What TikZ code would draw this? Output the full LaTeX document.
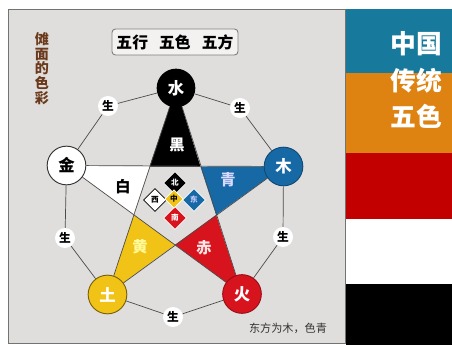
\documentclass[tikz,border=0pt]{standalone}
\usepackage{fontspec}
\setmainfont{Noto Sans CJK SC}
\usetikzlibrary{shapes.geometric}
\definecolor{panelgray}{HTML}{E0DEDC}
\definecolor{woodblue}{HTML}{1769A6}
\definecolor{firered}{HTML}{D7141E}
\definecolor{earthyellow}{HTML}{F2C317}
\definecolor{titlebrown}{HTML}{6B3A1C}
\definecolor{stripeblue}{HTML}{17799B}
\definecolor{stripeorange}{HTML}{DE8312}
\definecolor{stripered}{HTML}{C20000}
\tikzset{
  elem/.style={circle, minimum size=1.16cm, inner sep=0pt, line width=0.8pt,
    font=\fontsize{14}{14}\selectfont\bfseries},
  sheng/.style={circle, fill=white, minimum size=0.6cm, inner sep=0pt,
    font=\fontsize{10}{10}\selectfont\bfseries},
  fang/.style={diamond, draw=white, line width=0.6pt, minimum width=0.69cm,
    minimum height=0.69cm, inner sep=0pt, font=\fontsize{6.5}{6.5}\selectfont\bfseries},
  colorname/.style={font=\fontsize{13}{13}\selectfont\bfseries},
  link/.style={draw=black!70, line width=0.6pt}
}
\begin{document}
\begin{tikzpicture}[x=0.03cm, y=-0.03cm]
    \useasboundingbox (0,0) rectangle (452,345);
    % Panel
    \fill[white] (0,0) rectangle (452,345);
    \draw[fill=panelgray, draw=black!55, line width=0.8pt] (8,9) rectangle (345,343);
    % Colour stripes
    \fill[stripeblue] (346,9) rectangle (452,73);
    \fill[stripeorange] (346,73) rectangle (452,153);
    \fill[stripered] (346,153) rectangle (452,219);
    \fill[white] (346,219) rectangle (452,284);
    \fill[black] (346,284) rectangle (452,345);
    \node[white, align=center, font=\fontsize{22}{31.5}\selectfont\bfseries]
        (wuse) at (416,80) {中国\\传统\\五色};

    % Outer pentagon (five elements)
    \coordinate (W) at (176,88);
    \coordinate (M) at (283.5,166.5);
    \coordinate (H) at (242,294);
    \coordinate (T) at (107.5,294.5);
    \coordinate (J) at (66.5,165.5);
    % Inner pentagon
    \coordinate (P1) at (149.6,166.6);
    \coordinate (P2) at (200.4,166.6);
    \coordinate (P3) at (216.1,214.9);
    \coordinate (P4) at (175,244.8);
    \coordinate (P5) at (133.9,214.9);

    % Star points
    \fill[black] (W) -- (P1) -- (P2) -- cycle;
    \fill[woodblue] (M) -- (P2) -- (P3) -- cycle;
    \fill[firered] (H) -- (P3) -- (P4) -- cycle;
    \fill[earthyellow] (T) -- (P4) -- (P5) -- cycle;
    \fill[white] (J) -- (P5) -- (P1) -- cycle;

    % Element circles
    \node[elem, fill=black, text=white] (shui) at (W) {水};
    \node[elem, fill=woodblue, draw=woodblue!70!black, text=white] (mu) at (M) {木};
    \node[elem, fill=firered, draw=firered!70!black, text=white] (huo) at (H) {火};
    \node[elem, fill=earthyellow, draw=earthyellow!50!black, text=white] (tu) at (T) {土};
    \node[elem, fill=white, draw=black!80] (jin) at (J) {金};

    % Generating cycle
    \node[sheng] (s1) at (240,108) {生};
    \node[sheng] (s2) at (283,237) {生};
    \node[sheng] (s3) at (173,317) {生};
    \node[sheng] (s4) at (65,238) {生};
    \node[sheng] (s5) at (108,106) {生};
    \draw[link] (shui) -- (s1) -- (mu) -- (s2) -- (huo) -- (s3) -- (tu) -- (s4) -- (jin) -- (s5) -- (shui);

    % Pentagram lines
    \draw[link] (shui) -- (huo);
    \draw[link] (shui) -- (tu);
    \draw[link] (mu) -- (jin);
    \draw[link] (mu) -- (tu);
    \draw[link] (jin) -- (huo);

    % Colour names
    \node[colorname, white] (hei) at (177,145) {黑};
    \node[colorname, blue!15] (qing) at (228,180) {青};
    \node[colorname, red!10] (chi) at (204,248) {赤};
    \node[colorname, yellow!40] (huang) at (140,247) {黄};
    \node[colorname, black] (bai) at (123,187) {白};

    % Five directions
    \node[fang, fill=black, text=white] (bei) at (175,183) {北};
    \node[fang, fill=white, draw=black, text=black] (xi) at (155,200) {西};
    \node[fang, fill=woodblue, text=blue!20] (dong) at (194,200) {东};
    \node[fang, fill=firered, text=white] (nan) at (175,218) {南};
    \node[fang, fill=earthyellow, minimum width=0.55cm, minimum height=0.55cm] (zhong) at (174,199) {中};

    % Titles
    \node[draw=black!50, rounded corners=3pt, fill=white!60!panelgray, line width=0.8pt,
        minimum width=3.78cm, minimum height=0.78cm, font=\fontsize{13.5}{13.5}\selectfont\bfseries]
        (title) at (175,42) {五行\hspace{0.7em}五色\hspace{0.7em}五方};
    \node[titlebrown, align=center, font=\fontsize{12}{12.5}\selectfont\bfseries]
        (side) at (42,68.5) {傩\\面\\的\\色\\彩};
    \node[black!80, font=\fontsize{9.5}{9.5}\selectfont] (note) at (288,328) {东方为木，色青};
\end{tikzpicture}
\end{document}
